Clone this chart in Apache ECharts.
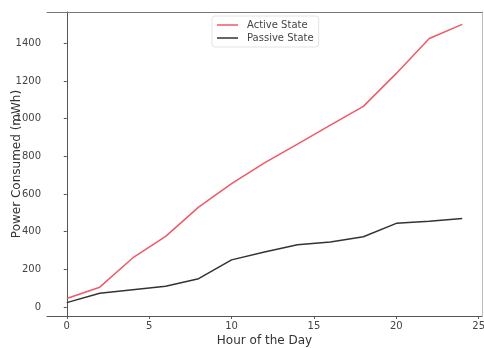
<!DOCTYPE html>
<html>
<head>
<meta charset="utf-8">
<script src="https://cdn.jsdelivr.net/npm/echarts@6/dist/echarts.min.js"></script>
<style>
html,body{margin:0;padding:0;background:#fff;}
#chart{width:484px;height:348px;}
</style>
</head>
<body>
<div id="chart"></div>
<script>
const hours = [0, 2, 4, 6, 8, 10, 12, 14, 16, 18, 20, 22, 24];
const activeState = [45, 105, 260, 375, 530, 655, 765, 865, 965, 1065, 1240, 1425, 1500];
const passiveState = [23, 73, 92, 110, 150, 250, 292, 330, 345, 373, 444, 455, 470];
const xTicks = [0, 5, 10, 15, 20, 25];
const yTicks = [0, 200, 400, 600, 800, 1000, 1200, 1400];
const seriesNames = ['Active State', 'Passive State'];

const FONT = 'DejaVu Sans';
const spine = '#555';
const chart = echarts.init(document.getElementById('chart'), null, {renderer: 'canvas'});
const pair = (xs, ys) => xs.map((x, i) => [x, ys[i]]);
const plain = v => String(v);

chart.setOption({
  animation: false,
  backgroundColor: '#fff',
  textStyle: {fontFamily: FONT},
  grid: {left: 47, right: 2, top: 12, bottom: 32, containLabel: false, outerBoundsMode: 'none'},
  legend: {
    orient: 'vertical',
    left: 212, top: 16,
    data: seriesNames.map(n => ({name: n, icon: 'rect'})),
    itemWidth: 21, itemHeight: 1.5, itemGap: 3,
    padding: [4, 5, 4, 5],
    borderColor: '#e4e4e4', borderWidth: 1, borderRadius: 3,
    backgroundColor: 'rgba(255,255,255,0.8)',
    textStyle: {fontFamily: FONT, fontSize: 10, color: '#444', padding: [0, 0, 0, 4]}
  },
  xAxis: [{
    type: 'value', min: -1.2, max: 25.2,
    name: 'Hour of the Day', nameLocation: 'middle', nameGap: 19, nameMoveOverlap: false,
    nameTextStyle: {fontFamily: FONT, fontSize: 12, color: '#333'},
    axisLine: {show: true, onZero: false, lineStyle: {color: spine, width: 1}},
    axisTick: {show: true, length: 3, customValues: xTicks, lineStyle: {color: spine}},
    axisLabel: {customValues: xTicks, formatter: plain, margin: 5, fontFamily: FONT, fontSize: 10, color: '#444'},
    splitLine: {show: false}
  }, {
    type: 'value', min: -1.2, max: 25.2, position: 'top',
    axisLine: {show: true, onZero: false, lineStyle: {color: '#777', width: 1}},
    axisTick: {show: false}, axisLabel: {show: false}, splitLine: {show: false}
  }],
  yAxis: [{
    type: 'value', min: -48, max: 1566,
    name: 'Power Consumed (mWh)', nameLocation: 'middle', nameGap: 24, nameRotate: 90, nameMoveOverlap: false,
    nameTextStyle: {fontFamily: FONT, fontSize: 12, color: '#333'},
    axisLine: {show: true, onZero: true, lineStyle: {color: spine, width: 1}},
    axisTick: {show: true, length: 3, customValues: yTicks, lineStyle: {color: spine}},
    axisLabel: {customValues: yTicks, formatter: plain, margin: 6, fontFamily: FONT, fontSize: 10, color: '#444'},
    splitLine: {show: false}
  }, {
    type: 'value', min: -48, max: 1566, position: 'right',
    axisLine: {show: true, onZero: false, lineStyle: {color: '#bbb', width: 1}},
    axisTick: {show: false}, axisLabel: {show: false}, splitLine: {show: false}
  }],
  series: [{
    name: seriesNames[0], type: 'line', data: pair(hours, activeState),
    showSymbol: false, symbol: 'none',
    lineStyle: {color: '#ee5a66', width: 1.5}, itemStyle: {color: '#ee5a66'}
  }, {
    name: seriesNames[1], type: 'line', data: pair(hours, passiveState),
    showSymbol: false, symbol: 'none',
    lineStyle: {color: '#333', width: 1.5}, itemStyle: {color: '#333'}
  }]
});
</script>
</body>
</html>
